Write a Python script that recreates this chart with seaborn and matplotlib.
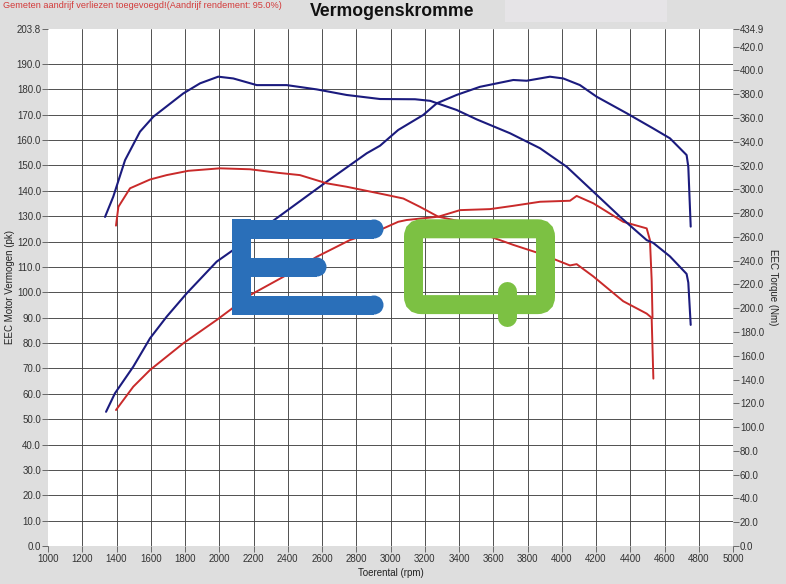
"""
Vermogenskromme (dyno curve): power in pk on the left axis, torque in Nm
on the right axis, for the tuned (blue) and stock (red) run.
"""

import matplotlib.pyplot as plt
import pandas as pd
import seaborn as sns
from matplotlib.patches import Circle, FancyBboxPatch, Rectangle
from matplotlib.ticker import FixedLocator

sns.set_theme(style="white")
plt.rcParams["font.family"] = ["Liberation Sans", "DejaVu Sans"]

BG = "#dedede"
BLUE = "#1b1b7e"
RED = "#c92a2a"

# tuned run (blue)
tuned_power_rpm = [1339, 1391, 1498, 1596, 1693, 1810, 1985, 2082, 2335, 2627, 2861, 2939,
                   3045, 3191, 3270, 3386, 3522, 3717, 3795, 3931, 4009, 4106, 4204, 4379,
                   4534, 4632, 4729, 4739, 4753]
tuned_power_pk = [52.9, 60.2, 70.7, 81.9, 90.4, 99.6, 112.1, 116.7, 129.2, 143.6, 154.8, 157.8,
                  164.0, 169.9, 174.5, 177.8, 181.0, 183.7, 183.4, 185.0, 184.3, 181.7, 177.1, 170.6,
                  164.6, 160.7, 154.1, 149.5, 125.9]
tuned_torque_rpm = [1333, 1381, 1450, 1537, 1615, 1790, 1888, 1994, 2082, 2219, 2394, 2569,
                    2744, 2939, 3143, 3231, 3386, 3503, 3698, 3873, 4029, 4184, 4340, 4496,
                    4534, 4632, 4729, 4739, 4753]
tuned_torque_nm = [276.8, 293.8, 324.6, 348.5, 361.1, 380.7, 389.2, 394.8, 393.3, 387.7, 387.7, 384.1,
                   379.4, 376.0, 375.8, 374.5, 366.8, 358.9, 347.2, 334.6, 319.0, 298.1, 277.0, 257.3,
                   255.0, 243.6, 228.9, 221.6, 186.0]

# stock run (red)
stock_power_rpm = [1397, 1498, 1596, 1790, 1985, 2180, 2374, 2569, 2763, 2939, 3045, 3094,
                   3279, 3406, 3581, 3717, 3873, 4048, 4087, 4184, 4359, 4496, 4515, 4525, 4530]
stock_power_pk = [53.6, 62.8, 69.4, 79.9, 89.1, 98.9, 106.1, 114.0, 120.6, 124.6, 127.8, 128.5,
                  129.8, 132.4, 132.8, 134.1, 135.7, 136.1, 138.0, 135.1, 127.8, 125.2, 120.6, 105.0, 90.0]
stock_torque_rpm = [1397, 1411, 1479, 1596, 1693, 1819, 2004, 2180, 2345, 2471, 2627, 2744,
                    2978, 3075, 3172, 3279, 3406, 3581, 3717, 3873, 4048, 4087, 4184, 4359,
                    4496, 4525, 4535]
stock_torque_nm = [269.5, 285.3, 300.9, 308.3, 312.0, 315.6, 317.7, 316.9, 313.9, 312.0, 305.1, 302.2,
                   295.3, 292.3, 285.3, 277.0, 273.1, 260.3, 253.3, 246.0, 236.0, 237.1, 226.8, 205.9,
                   195.5, 192.0, 140.8]

x_ticks = list(range(1000, 5001, 200))
pk_ticks = list(range(0, 191, 10))
nm_ticks = list(range(0, 421, 20))
PK_MAX = 203.8
NM_MAX = 434.9


def curve(rpm, val):
    return pd.DataFrame({"rpm": rpm, "val": val})


fig = plt.figure(figsize=(7.86, 5.84), dpi=100, facecolor=BG)
ax = fig.add_axes([48 / 786, 38 / 584, 685 / 786, 517 / 584])
ax2 = ax.twinx()

sns.lineplot(data=curve(stock_power_rpm, stock_power_pk), x="rpm", y="val", ax=ax,
             color=RED, lw=1.4, estimator=None, sort=False)
sns.lineplot(data=curve(tuned_power_rpm, tuned_power_pk), x="rpm", y="val", ax=ax,
             color=BLUE, lw=1.5, estimator=None, sort=False)
sns.lineplot(data=curve(stock_torque_rpm, stock_torque_nm), x="rpm", y="val", ax=ax2,
             color=RED, lw=1.4, estimator=None, sort=False)
sns.lineplot(data=curve(tuned_torque_rpm, tuned_torque_nm), x="rpm", y="val", ax=ax2,
             color=BLUE, lw=1.5, estimator=None, sort=False)

ax.set_xlim(1000, 5000)
ax.set_ylim(0, PK_MAX)
ax2.set_ylim(0, NM_MAX)
ax.set_facecolor("white")
for a in (ax, ax2):
    for s in a.spines.values():
        s.set_visible(False)

# grid only on the inner ticks, edge values as minor ticks
ax.xaxis.set_major_locator(FixedLocator(x_ticks[1:-1]))
ax.xaxis.set_minor_locator(FixedLocator([x_ticks[0], x_ticks[-1]]))
ax.set_xticklabels([str(t) for t in x_ticks[1:-1]])
ax.set_xticklabels([str(x_ticks[0]), str(x_ticks[-1])], minor=True)
ax.yaxis.set_major_locator(FixedLocator(pk_ticks[1:]))
ax.yaxis.set_minor_locator(FixedLocator([0, PK_MAX]))
ax.set_yticklabels([f"{t:.1f}" for t in pk_ticks[1:]])
ax.set_yticklabels(["0.0", f"{PK_MAX:.1f}"], minor=True)
ax2.yaxis.set_major_locator(FixedLocator(nm_ticks))
ax2.yaxis.set_minor_locator(FixedLocator([NM_MAX]))
ax2.set_yticklabels([f"{t:.1f}" for t in nm_ticks])
ax2.set_yticklabels([f"{NM_MAX:.1f}"], minor=True)

ax.grid(True, which="major", color="#444444", lw=0.65)
ax.set_axisbelow(True)
for a in (ax, ax2):
    a.tick_params(which="both", direction="out", length=4, width=0.6, color="#555555",
                  labelsize=7, labelcolor="#333333", pad=1)
ax.tick_params(axis="y", which="both", left=True)
ax.tick_params(axis="x", which="both", bottom=True, pad=2)
ax2.tick_params(axis="y", which="both", right=True)

ax.set_xlabel("Toerental (rpm)", fontsize=7, color="#222222", labelpad=3)
ax.set_ylabel("EEC Motor Vermogen (pk)", fontsize=7, color="#222222", labelpad=1)
ax2.set_ylabel("EEC Torque (Nm)", fontsize=7, color="#222222", rotation=-90, labelpad=10)

fig.text(392 / 786, 1 - 11 / 584, "Vermogenskromme", ha="center", va="center",
         fontsize=12.7, fontweight="bold", color="#111111")
fig.text(3 / 786, 1 - 6 / 584,
         "Gemeten aandrijf verliezen toegevoegd!(Aandrijf rendement: 95.0%)",
         ha="left", va="center", fontsize=6.6, color="#d33a3a")

# overlay in pixel coordinates for the watermark logo
ov = fig.add_axes([0, 0, 1, 1], facecolor="none")
ov.set_xlim(0, 786)
ov.set_ylim(584, 0)
ov.axis("off")
ov.add_patch(Rectangle((505, 0), 162, 22, color="#e6e4e7", lw=0))

LOGO_BLUE = "#2a6fb9"
LOGO_GREEN = "#7cc143"
bar = 19 * 72 / 100  # 19 px thick strokes
ov.add_patch(Rectangle((232, 219), 19, 95, color=LOGO_BLUE, lw=0))
for yc, xe in [(229, 374), (267, 317), (305, 374)]:
    ov.add_patch(Rectangle((232, yc - 9.5), xe - 232, 19, color=LOGO_BLUE, lw=0))
    ov.add_patch(Circle((xe, yc), 9.5, color=LOGO_BLUE, lw=0))
ov.add_patch(FancyBboxPatch((413.5, 228.8), 132, 75.8, boxstyle="round,pad=0,rounding_size=8",
                            fill=False, edgecolor=LOGO_GREEN, lw=bar))
ov.plot([507, 507], [291, 317], color=LOGO_GREEN, lw=bar, solid_capstyle="round")
ov.plot([228, 556], [345, 345], color="white", lw=1.8, ls=(0, (5, 4)))

fig.savefig("out.png", dpi=100, facecolor=BG)
